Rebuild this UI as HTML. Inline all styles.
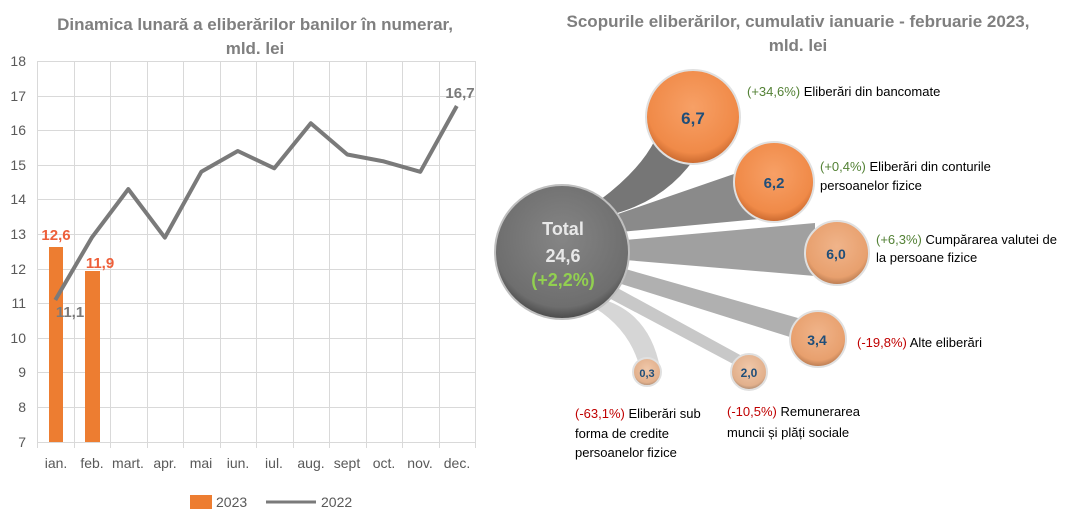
<!DOCTYPE html>
<html><head><meta charset="utf-8"><style>
body{margin:0;background:#fff;}
svg{display:block;font-family:"Liberation Sans",sans-serif;}
</style></head><body>
<svg width="1078" height="521" viewBox="0 0 1078 521">
<defs>
<radialGradient id="og" cx="50%" cy="40%" r="60%"><stop offset="0" stop-color="#f7a066"/><stop offset="0.8" stop-color="#f08a48"/><stop offset="1" stop-color="#c9682e"/></radialGradient>
<radialGradient id="og2" cx="50%" cy="40%" r="60%"><stop offset="0" stop-color="#f0b48a"/><stop offset="0.8" stop-color="#e8a06e"/><stop offset="1" stop-color="#b87a50"/></radialGradient>
<radialGradient id="og3" cx="50%" cy="40%" r="60%"><stop offset="0" stop-color="#f0c8aa"/><stop offset="0.8" stop-color="#e2b08c"/><stop offset="1" stop-color="#a88870"/></radialGradient>
<radialGradient id="gg" cx="50%" cy="40%" r="60%"><stop offset="0" stop-color="#858585"/><stop offset="0.85" stop-color="#6e6e6e"/><stop offset="1" stop-color="#4a4a4a"/></radialGradient>
</defs>
<text x="255" y="30" text-anchor="middle" font-size="17" font-weight="bold" fill="#7f7f7f">Dinamica lunară a eliberărilor banilor în numerar,</text>
<text x="255" y="54" text-anchor="middle" font-size="17" font-weight="bold" fill="#7f7f7f">mld. lei</text>
<g stroke="#d9d9d9" stroke-width="1">
<line x1="37" y1="61.5" x2="475" y2="61.5"/><line x1="37" y1="96.5" x2="475" y2="96.5"/><line x1="37" y1="130.5" x2="475" y2="130.5"/><line x1="37" y1="165.5" x2="475" y2="165.5"/><line x1="37" y1="199.5" x2="475" y2="199.5"/><line x1="37" y1="234.5" x2="475" y2="234.5"/><line x1="37" y1="269.5" x2="475" y2="269.5"/><line x1="37" y1="303.5" x2="475" y2="303.5"/><line x1="37" y1="338.5" x2="475" y2="338.5"/><line x1="37" y1="372.5" x2="475" y2="372.5"/><line x1="37" y1="407.5" x2="475" y2="407.5"/><line x1="37" y1="442.5" x2="475" y2="442.5"/>
<line x1="37.5" y1="61" x2="37.5" y2="448"/><line x1="74.5" y1="61" x2="74.5" y2="448"/><line x1="110.5" y1="61" x2="110.5" y2="448"/><line x1="147.5" y1="61" x2="147.5" y2="448"/><line x1="183.5" y1="61" x2="183.5" y2="448"/><line x1="220.5" y1="61" x2="220.5" y2="448"/><line x1="256.5" y1="61" x2="256.5" y2="448"/><line x1="293.5" y1="61" x2="293.5" y2="448"/><line x1="329.5" y1="61" x2="329.5" y2="448"/><line x1="366.5" y1="61" x2="366.5" y2="448"/><line x1="402.5" y1="61" x2="402.5" y2="448"/><line x1="439.5" y1="61" x2="439.5" y2="448"/><line x1="475.5" y1="61" x2="475.5" y2="448"/>
</g>
<g font-size="14" fill="#595959" text-anchor="end">
<text x="26" y="66">18</text><text x="26" y="101">17</text><text x="26" y="135">16</text><text x="26" y="170">15</text><text x="26" y="204">14</text><text x="26" y="239">13</text><text x="26" y="274">12</text><text x="26" y="308">11</text><text x="26" y="343">10</text><text x="26" y="377">9</text><text x="26" y="412">8</text><text x="26" y="447">7</text>
</g>
<g font-size="14" fill="#595959" text-anchor="middle">
<text x="56" y="468">ian.</text><text x="92" y="468">feb.</text><text x="128" y="468">mart.</text><text x="165" y="468">apr.</text><text x="201" y="468">mai</text><text x="238" y="468">iun.</text><text x="274" y="468">iul.</text><text x="311" y="468">aug.</text><text x="347" y="468">sept</text><text x="384" y="468">oct.</text><text x="420" y="468">nov.</text><text x="457" y="468">dec.</text>
</g>
<rect x="49" y="247" width="14" height="195" fill="#ed7d31"/>
<rect x="85" y="271" width="15" height="171" fill="#ed7d31"/>
<polyline points="55.3,300 91.8,237.6 128.3,189.1 164.8,237.6 201.3,171.8 237.8,151 274.3,168.3 310.8,123.3 347.3,154.5 383.8,161.4 420.3,171.8 456.8,106" fill="none" stroke="#7a7a7a" stroke-width="4" stroke-linejoin="round"/>
<text x="56" y="240" text-anchor="middle" font-size="15" font-weight="bold" fill="#ed5f3a">12,6</text>
<text x="100" y="268" text-anchor="middle" font-size="15" font-weight="bold" fill="#ed5f3a">11,9</text>
<text x="70" y="317" text-anchor="middle" font-size="15" font-weight="bold" fill="#7a7a7a">11,1</text>
<text x="460" y="98" text-anchor="middle" font-size="15" font-weight="bold" fill="#7a7a7a">16,7</text>
<rect x="190" y="495" width="22" height="14" fill="#ed7d31"/>
<text x="216" y="507" font-size="14" fill="#595959">2023</text>
<line x1="266" y1="502" x2="316" y2="502" stroke="#7a7a7a" stroke-width="3"/>
<text x="321" y="507" font-size="14" fill="#595959">2022</text>
<text x="798" y="27" text-anchor="middle" font-size="17" font-weight="bold" fill="#7f7f7f">Scopurile eliberărilor, cumulativ ianuarie - februarie 2023,</text>
<text x="798" y="51" text-anchor="middle" font-size="17" font-weight="bold" fill="#7f7f7f">mld. lei</text>
<g>
<path d="M600,200 Q640,170 655,140 L700,150 Q670,200 610,215 Z" fill="#767676"/>
<path d="M615,215 L760,165 L770,218 L620,232 Z" fill="#8a8a8a"/>
<path d="M625,240 L815,223 L815,276 L625,260 Z" fill="#a0a0a0"/>
<path d="M622,268 L805,320 L790,337 L615,282 Z" fill="#b0b0b0"/>
<path d="M612,285 L742,356 L735,365 L605,296 Z" fill="#c8c8c8"/>
<path d="M605,300 Q650,315 660,368 L640,368 Q630,330 595,308 Z" fill="#d6d6d6"/>
</g>
<circle cx="562" cy="252" r="67" fill="url(#gg)" stroke="#bfbfbf" stroke-width="2"/>
<circle cx="693" cy="117" r="47" fill="url(#og)" stroke="#e0e0e0" stroke-width="2"/>
<circle cx="774" cy="182" r="40" fill="url(#og)" stroke="#e0e0e0" stroke-width="2"/>
<circle cx="837" cy="253" r="32" fill="url(#og2)" stroke="#e0e0e0" stroke-width="2"/>
<circle cx="818" cy="339" r="28" fill="url(#og2)" stroke="#e0e0e0" stroke-width="2"/>
<circle cx="749" cy="372" r="18" fill="url(#og3)" stroke="#e0e0e0" stroke-width="2"/>
<circle cx="647" cy="372" r="14" fill="url(#og3)" stroke="#e0e0e0" stroke-width="2"/>
<g text-anchor="middle" font-weight="bold" fill="#1f4e79">
<text x="693" y="124" font-size="17">6,7</text>
<text x="774" y="188" font-size="15">6,2</text>
<text x="836" y="259" font-size="14">6,0</text>
<text x="817" y="345" font-size="14">3,4</text>
<text x="749" y="377" font-size="12">2,0</text>
<text x="647" y="377" font-size="11">0,3</text>
</g>
<g text-anchor="middle" font-weight="bold" font-size="18">
<text x="563" y="235" fill="#e8e8e8">Total</text>
<text x="563" y="262" fill="#e8e8e8">24,6</text>
<text x="563" y="286" fill="#92d050">(+2,2%)</text>
</g>
<g font-size="13" fill="#000">
<text x="747" y="96"><tspan fill="#538135">(+34,6%)</tspan> Eliberări din bancomate</text>
<text x="820" y="171"><tspan fill="#538135">(+0,4%)</tspan> Eliberări din conturile</text>
<text x="820" y="190">persoanelor fizice</text>
<text x="876" y="244"><tspan fill="#538135">(+6,3%)</tspan> Cumpărarea valutei de</text>
<text x="876" y="262">la persoane fizice</text>
<text x="857" y="347"><tspan fill="#c00000">(-19,8%)</tspan> Alte eliberări</text>
<text x="727" y="416"><tspan fill="#c00000">(-10,5%)</tspan> Remunerarea</text>
<text x="727" y="437">muncii și plăți sociale</text>
<text x="575" y="418"><tspan fill="#c00000">(-63,1%)</tspan> Eliberări sub</text>
<text x="575" y="438">forma de credite</text>
<text x="575" y="457">persoanelor fizice</text>
</g>
</svg>
</body></html>
